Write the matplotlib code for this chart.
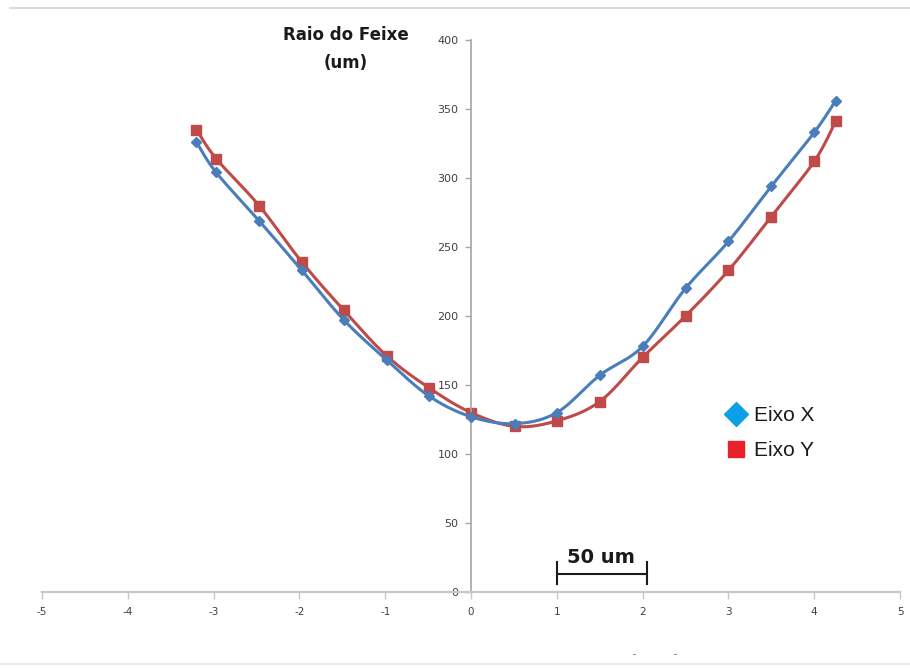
import numpy as np
import matplotlib
matplotlib.use("Agg")
import matplotlib.pyplot as plt
from matplotlib.lines import Line2D

# ---- data ----
x_vals = [-3.2, -2.97, -2.47, -1.97, -1.48, -0.98, -0.49, 0.0, 0.51, 1.0, 1.5, 2.0, 2.5, 3.0, 3.5, 4.0, 4.25]
eixo_x = [326, 304, 269, 233, 197, 168, 142, 127, 122, 130, 157, 178, 220, 254, 294, 333, 356]
eixo_y = [335, 314, 280, 239, 204, 171, 148, 130, 120, 124, 138, 170, 200, 233, 272, 312, 341]
x_ticks = [-5, -4, -3, -2, -1, 0, 1, 2, 3, 4, 5]
y_ticks = [0, 50, 100, 150, 200, 250, 300, 350, 400]
series_names = ["Eixo X", "Eixo Y"]


def smooth(xs, ys, n=30):
    """Excel-like smoothed line (cubic Bezier, Catmull-Rom control points)."""
    P = np.column_stack([xs, ys]).astype(float)
    out = []
    m = len(P)
    for i in range(m - 1):
        p0 = P[i - 1] if i > 0 else P[i]
        p1 = P[i]
        p2 = P[i + 1]
        p3 = P[i + 2] if i + 2 < m else P[i + 1]
        c1 = p1 + (p2 - p0) / 6.0
        c2 = p2 - (p3 - p1) / 6.0
        t = np.linspace(0, 1, n)[:, None]
        seg = ((1 - t) ** 3) * p1 + 3 * ((1 - t) ** 2) * t * c1 + 3 * (1 - t) * t ** 2 * c2 + t ** 3 * p2
        out.append(seg if i == 0 else seg[1:])
    S = np.vstack(out)
    return S[:, 0], S[:, 1]


W, H = 910, 668
fig = plt.figure(figsize=(W / 100, H / 100), dpi=100)
ax = fig.add_axes([42 / W, (H - 592) / H, (900 - 42) / W, (592 - 40) / H])

blue_line = "#4a7ebb"
red_line = "#be4b48"

sx, sy = smooth(x_vals, eixo_x)
ax.plot(sx, sy, color=blue_line, lw=2.2, zorder=3, solid_capstyle="round")
ax.plot(x_vals, eixo_x, ls="none", marker="D", ms=5, color=blue_line, zorder=4)

sx, sy = smooth(x_vals, eixo_y)
ax.plot(sx, sy, color=red_line, lw=2.2, zorder=2, solid_capstyle="round")
ax.plot(x_vals, eixo_y, ls="none", marker="s", ms=7.5, color=red_line, zorder=2.5)

ax.set_xlim(-5, 5)
ax.set_ylim(0, 400)

for s in ["top", "right"]:
    ax.spines[s].set_visible(False)
ax.spines["left"].set_position(("data", 0))
ax.spines["left"].set_color("#a6a6a6")
ax.spines["bottom"].set_color("#c8c8c8")
ax.spines["left"].set_linewidth(1.2)
ax.spines["bottom"].set_linewidth(1.6)

ax.set_xticks(x_ticks)
ax.set_xticklabels([str(v) for v in x_ticks])
ax.set_yticks(y_ticks)
ax.set_yticklabels([str(v) for v in y_ticks])
ax.tick_params(axis="x", direction="out", length=5, width=1, color="#c8c8c8",
               labelsize=7.5, labelcolor="#404040", pad=6)
ax.tick_params(axis="y", direction="out", length=4, width=1, color="#a6a6a6",
               labelsize=8, labelcolor="#404040", pad=5)
for lab in ax.get_xticklabels() + ax.get_yticklabels():
    lab.set_fontfamily("Liberation Sans Narrow")

# axis title
fig.text(346 / W, 1 - 49 / H, "Raio do Feixe\n(um)", ha="center", va="center",
         fontsize=12, fontweight="bold", family="DejaVu Sans", color="#1a1a1a",
         linespacing=1.75)

# scale bar annotation
ax.plot([1.0, 2.05], [13, 13], color="#1a1a1a", lw=1.5, zorder=5)
ax.plot([1.0, 1.0], [6, 22], color="#1a1a1a", lw=1.5, zorder=5)
ax.plot([2.05, 2.05], [6, 22], color="#1a1a1a", lw=1.5, zorder=5)
ax.text(1.52, 25, "50 um", ha="center", va="center", fontsize=14, fontweight="bold",
        family="Liberation Sans Narrow", color="#1a1a1a")

# legend
handles = [
    Line2D([], [], ls="none", marker="D", ms=12, color="#0ea0e6"),
    Line2D([], [], ls="none", marker="s", ms=11, color="#e8202a"),
]
leg = fig.legend(handles, series_names, loc="center left",
                 bbox_to_anchor=(708 / W, 1 - 433 / H), frameon=False,
                 prop={"family": "Liberation Sans", "size": 15},
                 handlelength=0.9, handletextpad=0.4, labelspacing=0.75)
for t in leg.get_texts():
    t.set_color("#1a1a1a")

# decorative frame lines
fig.add_artist(Line2D([10 / W, 1], [1 - 8 / H, 1 - 8 / H], color="#d9d9d9", lw=1.5))
fig.add_artist(Line2D([0, 1], [1 - 664 / H, 1 - 664 / H], color="#e6e6e6", lw=1.2))
fig.text(634 / W, 1 - 655 / H, "-", ha="center", va="center", fontsize=6, color="#404040")
fig.text(675 / W, 1 - 655 / H, "-", ha="center", va="center", fontsize=6, color="#404040")

fig.savefig("out.png", dpi=100)
